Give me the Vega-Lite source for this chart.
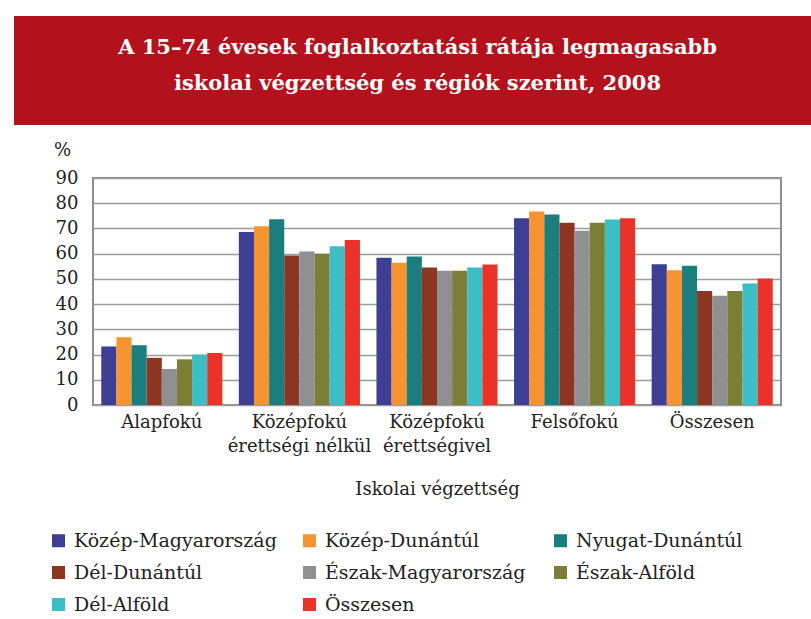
{
  "$schema": "https://vega.github.io/schema/vega-lite/v6.json",
  "padding": {"left": 14, "top": 16, "right": 0, "bottom": 0},
  "background": "white",
  "spacing": 15,
  "config": {"view": {"stroke": null}, "font": "DejaVu Serif"},
  "vconcat": [
    {
      "width": 797,
      "height": 109,
      "view": {"fill": "#B3121C", "stroke": null},
      "data": {"values": [
        {"line": 1, "text": "A 15–74 évesek foglalkoztatási rátája legmagasabb"},
        {"line": 2, "text": "iskolai végzettség és régiók szerint, 2008"}
      ]},
      "mark": {"type": "text", "font": "DejaVu Serif", "fontWeight": "bold", "fontSize": 21, "color": "white", "baseline": "alphabetic", "align": "center", "dx": 5},
      "encoding": {
        "y": {"field": "line", "type": "ordinal", "axis": null, "scale": {"padding": 1.15, "align": 0.52}},
        "text": {"field": "text"}
      }
    },
    {
      "hconcat": [
        {
          "width": 79,
          "height": 227,
          "data": {"values": []},
          "mark": "point",
          "view": {"stroke": null}
        },
        {
          "width": 688,
          "height": 227,
          "view": {"stroke": "#8E8E8E", "strokeWidth": 2},
          "data": {"values": [
            {"edu": "Alapfokú", "region": "Közép-Magyarország", "value": 23.2},
            {"edu": "Alapfokú", "region": "Közép-Dunántúl", "value": 26.9},
            {"edu": "Alapfokú", "region": "Nyugat-Dunántúl", "value": 23.7},
            {"edu": "Alapfokú", "region": "Dél-Dunántúl", "value": 18.7},
            {"edu": "Alapfokú", "region": "Észak-Magyarország", "value": 14.3},
            {"edu": "Alapfokú", "region": "Észak-Alföld", "value": 18.1},
            {"edu": "Alapfokú", "region": "Dél-Alföld", "value": 20.0},
            {"edu": "Alapfokú", "region": "Összesen", "value": 20.6},
            {"edu": "Középfokú érettségi nélkül", "region": "Közép-Magyarország", "value": 68.6},
            {"edu": "Középfokú érettségi nélkül", "region": "Közép-Dunántúl", "value": 70.9},
            {"edu": "Középfokú érettségi nélkül", "region": "Nyugat-Dunántúl", "value": 73.6},
            {"edu": "Középfokú érettségi nélkül", "region": "Dél-Dunántúl", "value": 59.3},
            {"edu": "Középfokú érettségi nélkül", "region": "Észak-Magyarország", "value": 60.9},
            {"edu": "Középfokú érettségi nélkül", "region": "Észak-Alföld", "value": 60.0},
            {"edu": "Középfokú érettségi nélkül", "region": "Dél-Alföld", "value": 62.9},
            {"edu": "Középfokú érettségi nélkül", "region": "Összesen", "value": 65.4},
            {"edu": "Középfokú érettségivel", "region": "Közép-Magyarország", "value": 58.4},
            {"edu": "Középfokú érettségivel", "region": "Közép-Dunántúl", "value": 56.4},
            {"edu": "Középfokú érettségivel", "region": "Nyugat-Dunántúl", "value": 58.9},
            {"edu": "Középfokú érettségivel", "region": "Dél-Dunántúl", "value": 54.5},
            {"edu": "Középfokú érettségivel", "region": "Észak-Magyarország", "value": 53.2},
            {"edu": "Középfokú érettségivel", "region": "Észak-Alföld", "value": 53.2},
            {"edu": "Középfokú érettségivel", "region": "Dél-Alföld", "value": 54.5},
            {"edu": "Középfokú érettségivel", "region": "Összesen", "value": 55.7},
            {"edu": "Felsőfokú", "region": "Közép-Magyarország", "value": 74.0},
            {"edu": "Felsőfokú", "region": "Közép-Dunántúl", "value": 76.7},
            {"edu": "Felsőfokú", "region": "Nyugat-Dunántúl", "value": 75.5},
            {"edu": "Felsőfokú", "region": "Dél-Dunántúl", "value": 72.3},
            {"edu": "Felsőfokú", "region": "Észak-Magyarország", "value": 69.1},
            {"edu": "Felsőfokú", "region": "Észak-Alföld", "value": 72.3},
            {"edu": "Felsőfokú", "region": "Dél-Alföld", "value": 73.5},
            {"edu": "Felsőfokú", "region": "Összesen", "value": 74.0},
            {"edu": "Összesen", "region": "Közép-Magyarország", "value": 55.8},
            {"edu": "Összesen", "region": "Közép-Dunántúl", "value": 53.4},
            {"edu": "Összesen", "region": "Nyugat-Dunántúl", "value": 55.2},
            {"edu": "Összesen", "region": "Dél-Dunántúl", "value": 45.2},
            {"edu": "Összesen", "region": "Észak-Magyarország", "value": 43.3},
            {"edu": "Összesen", "region": "Észak-Alföld", "value": 45.2},
            {"edu": "Összesen", "region": "Dél-Alföld", "value": 48.2},
            {"edu": "Összesen", "region": "Összesen", "value": 50.2}
          ]},
          "mark": {"type": "bar"},
          "encoding": {
            "x": {
              "field": "edu", "type": "nominal",
              "sort": ["Alapfokú", "Középfokú érettségi nélkül", "Középfokú érettségivel", "Felsőfokú", "Összesen"],
              "scale": {"paddingInner": 0.12, "paddingOuter": 0.06},
              "axis": {
                "domain": false, "ticks": false, "labelAngle": 0,
                "labelFont": "DejaVu Serif", "labelFontSize": 18, "labelColor": "#222222",
                "labelLineHeight": 24, "labelPadding": 8,
                "labelExpr": "datum.value == 'Középfokú érettségi nélkül' ? ['Középfokú', 'érettségi nélkül'] : datum.value == 'Középfokú érettségivel' ? ['Középfokú', 'érettségivel'] : datum.label",
                "title": "Iskolai végzettség", "titleFont": "DejaVu Serif", "titleFontSize": 18,
                "titleFontWeight": "normal", "titleColor": "#222222", "titlePadding": 25
              }
            },
            "xOffset": {
              "field": "region", "type": "nominal",
              "sort": ["Közép-Magyarország", "Közép-Dunántúl", "Nyugat-Dunántúl", "Dél-Dunántúl", "Észak-Magyarország", "Észak-Alföld", "Dél-Alföld", "Összesen"],
              "scale": {"paddingInner": 0, "paddingOuter": 0}
            },
            "y": {
              "field": "value", "type": "quantitative",
              "scale": {"domain": [0, 90]},
              "axis": {
                "values": [0, 10, 20, 30, 40, 50, 60, 70, 80, 90],
                "domain": false, "ticks": false, "grid": true,
                "gridColor": "#9C9C9C", "gridWidth": 1.6,
                "labelFont": "DejaVu Serif", "labelFontSize": 18, "labelColor": "#222222", "labelPadding": 15,
                "title": "%", "titleAngle": 0, "titleX": -31, "titleY": -28,
                "titleAlign": "center", "titleBaseline": "middle",
                "titleFont": "DejaVu Serif", "titleFontSize": 18, "titleFontWeight": "normal", "titleColor": "#222222"
              }
            },
            "color": {
              "field": "region", "type": "nominal",
              "scale": {
                "domain": ["Közép-Magyarország", "Közép-Dunántúl", "Nyugat-Dunántúl", "Dél-Dunántúl", "Észak-Magyarország", "Észak-Alföld", "Dél-Alföld", "Összesen"],
                "range": ["#3D3E94", "#F59430", "#1A7E7D", "#8C3522", "#8F9091", "#7B7F35", "#3CBEC5", "#EA3229"]
              },
              "legend": {
                "orient": "none", "legendX": 35, "legendY": 515,
                "columns": 3, "direction": "horizontal", "gridAlign": "all",
                "title": null, "symbolType": "square", "symbolSize": 170, "symbolStrokeWidth": 0,
                "labelFont": "DejaVu Serif", "labelFontSize": 19, "labelColor": "#222222",
                "labelOffset": 6, "rowPadding": 12, "columnPadding": 23, "labelLimit": 400
              }
            }
          }
        }
      ],
      "bounds": "flush",
      "spacing": 0
    }
  ]
}
